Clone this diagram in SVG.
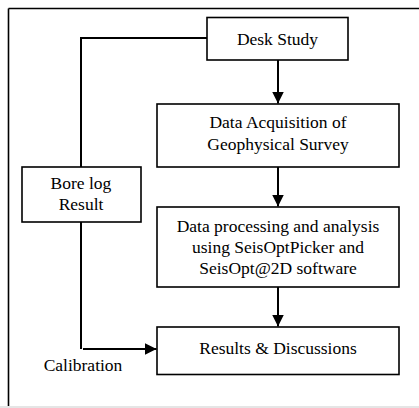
<svg xmlns="http://www.w3.org/2000/svg" width="419" height="408" viewBox="0 0 419 408">
  <defs>
    <style>
      .box { fill: #ffffff; stroke: #000000; stroke-width: 1.6; }
      .lbl { font-size: 17.5px; fill: #000000; text-anchor: middle; }
      .conn { fill: none; stroke: #000000; stroke-width: 2; }
    </style>
    <marker id="arrow" viewBox="0 0 12 12" refX="12" refY="6" markerWidth="12" markerHeight="12" markerUnits="userSpaceOnUse" orient="auto">
      <path d="M0,0 L12,6 L0,12 Z" fill="#000000"/>
    </marker>
  </defs>
  <rect x="0" y="0" width="419" height="408" fill="#ffffff"/>
  <g id="frame">
    <line x1="0" y1="407" x2="419" y2="407" stroke="#dddddd" stroke-width="1.5"/>
    <line x1="8.5" y1="8.5" x2="419" y2="8.5" stroke="#000000" stroke-width="1.6"/>
    <line x1="8.5" y1="8.5" x2="8.5" y2="406" stroke="#000000" stroke-width="1.6"/>
  </g>
  <g id="connectors">
    <polyline class="conn" points="207,38 81,38 81,167"/>
    <line class="conn" x1="278" y1="60" x2="278" y2="103.5" marker-end="url(#arrow)"/>
    <line class="conn" x1="278" y1="167" x2="278" y2="206.5" marker-end="url(#arrow)"/>
    <line class="conn" x1="278" y1="287" x2="278" y2="326.5" marker-end="url(#arrow)"/>
    <line class="conn" x1="81" y1="222" x2="81" y2="349"/>
    <line class="conn" x1="83" y1="349" x2="156.5" y2="349" marker-end="url(#arrow)"/>
  </g>
  <g font-family="'Liberation Serif', 'Times New Roman', 'DejaVu Serif', serif">
  <g id="desk-study">
    <rect class="box" x="207" y="17.5" width="141" height="42.5"/>
    <text class="lbl" x="277.5" y="44.5">Desk Study</text>
  </g>
  <g id="data-acquisition">
    <rect class="box" x="157" y="104" width="242" height="63"/>
    <text class="lbl" x="278" y="128">Data Acquisition of</text>
    <text class="lbl" x="278" y="149.5">Geophysical Survey</text>
  </g>
  <g id="data-processing">
    <rect class="box" x="157" y="207" width="242" height="80"/>
    <text class="lbl" x="278" y="231.5">Data processing and analysis</text>
    <text class="lbl" x="278" y="252.5">using SeisOptPicker and</text>
    <text class="lbl" x="278" y="273.5">SeisOpt@2D software</text>
  </g>
  <g id="bore-log">
    <rect class="box" x="22" y="167" width="119" height="55"/>
    <text class="lbl" x="81" y="188.5">Bore log</text>
    <text class="lbl" x="81" y="210">Result</text>
  </g>
  <g id="results">
    <rect class="box" x="157" y="327" width="242" height="47.5"/>
    <text class="lbl" x="278" y="353.5">Results &amp; Discussions</text>
  </g>
  <g id="calibration-label">
    <text class="lbl" x="83" y="370.5">Calibration</text>
  </g>
  </g>
</svg>
